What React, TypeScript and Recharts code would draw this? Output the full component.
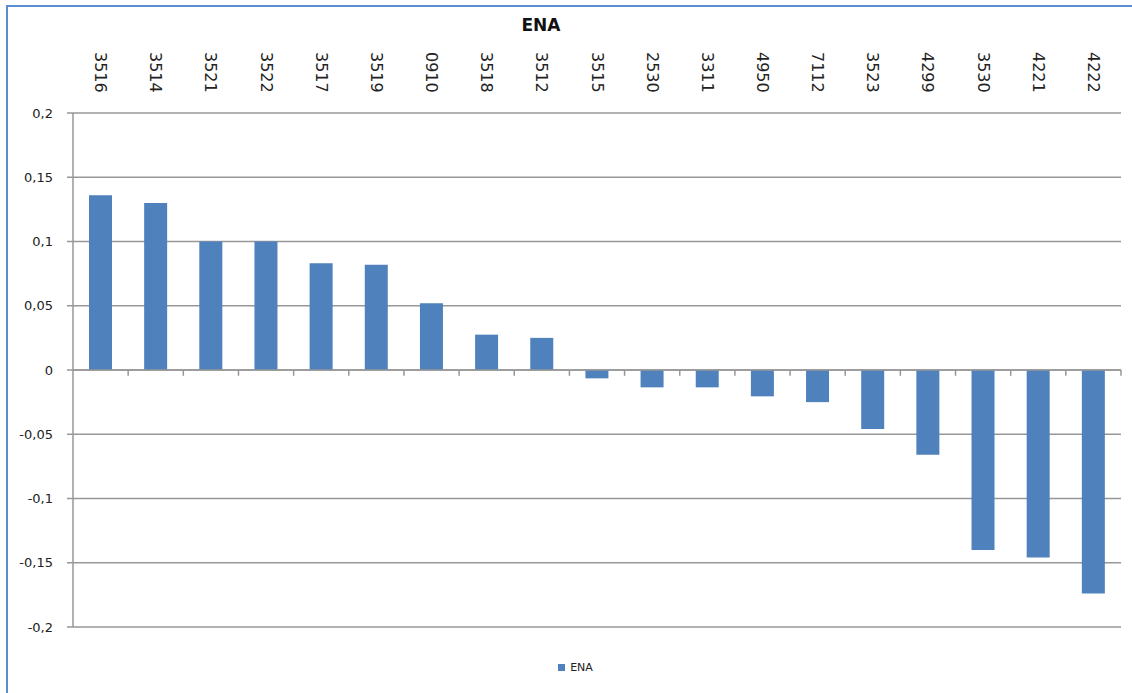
import React from 'react';
import { BarChart, Bar, XAxis, YAxis, CartesianGrid, ReferenceLine, Legend } from 'recharts';

const categories = ['3516', '3514', '3521', '3522', '3517', '3519', '0910', '3518', '3512', '3515', '2530', '3311', '4950', '7112', '3523', '4299', '3530', '4221', '4222'];
const enaValues = [0.136, 0.130, 0.100, 0.100, 0.083, 0.082, 0.052, 0.0275, 0.025, -0.0065, -0.0135, -0.0135, -0.0205, -0.025, -0.046, -0.066, -0.140, -0.146, -0.174];
const yTicks = [-0.2, -0.15, -0.1, -0.05, 0, 0.05, 0.1, 0.15, 0.2];
const seriesName = 'ENA';
const titleText = 'ENA';

const data = categories.map((c, i) => ({ cat: c, ENA: enaValues[i] }));

const FONT = '"DejaVu Sans", sans-serif';
const GRID = '#979797';
const BAR = '#4F81BD';

const TopTick = (props: any) => {
  const { x, payload } = props;
  return (
    <text
      x={0}
      y={0}
      transform={`translate(${x},52) rotate(90)`}
      textAnchor="start"
      dominantBaseline="central"
      fontSize={16}
      fontFamily={FONT}
      fill="#222"
    >
      {payload.value}
    </text>
  );
};

const fmt = (v: number) => String(v).replace('.', ',');

const LegendContent = () => (
  <div style={{ height: 46, display: 'flex', justifyContent: 'center', paddingLeft: 30, boxSizing: 'border-box' }}>
    <div style={{ marginTop: 35, display: 'flex', alignItems: 'center', fontFamily: FONT, fontSize: 11, color: '#222', lineHeight: '11px' }}>
      <span style={{ display: 'inline-block', width: 7, height: 7, background: BAR, marginRight: 5 }} />
      <span>{seriesName}</span>
    </div>
  </div>
);

export default function App() {
  return (
    <div style={{ position: 'absolute', left: 0, top: 0, width: 1132, height: 693, background: '#fff', overflow: 'hidden' }}>
      <div style={{ position: 'absolute', left: 6, top: 5, width: 1140, height: 700, borderLeft: '2px solid #5B8BD0', borderTop: '2px solid #5B8BD0', boxSizing: 'border-box' }} />
      <div style={{ position: 'absolute', left: 0, top: 14, width: 1082, textAlign: 'center', fontFamily: FONT, fontWeight: 'bold', fontSize: 17, lineHeight: '22px', color: '#111' }}>
        {titleText}
      </div>
      <div style={{ position: 'absolute', left: 0, top: 0 }}>
        <BarChart width={1132} height={693} data={data} margin={{ top: 0, right: 11, bottom: 20, left: 0 }} barCategoryGap="29%">
          <CartesianGrid horizontal vertical={false} stroke={GRID} strokeWidth={1.5} />
          <XAxis
            dataKey="cat"
            orientation="top"
            height={113}
            interval={0}
            axisLine={false}
            tickLine={false}
            tick={<TopTick />}
          />
          <YAxis
            width={73}
            domain={[-0.2, 0.2]}
            ticks={yTicks}
            tickFormatter={fmt}
            allowDataOverflow
            tickSize={6}
            tickMargin={14}
            axisLine={{ stroke: GRID, strokeWidth: 1.5 }}
            tickLine={{ stroke: GRID, strokeWidth: 1.5 }}
            tick={{ fontSize: 13, fontFamily: FONT, fill: '#222' }}
          />
          <Legend verticalAlign="bottom" content={<LegendContent />} />
          <Bar dataKey="ENA" name={seriesName} fill={BAR} isAnimationActive={false} />
          <ReferenceLine y={0} stroke={GRID} strokeWidth={1.5} />
          {categories.map((c) => (
            <ReferenceLine
              key={'t' + c}
              segment={[{ x: c, y: 0 }, { x: c, y: -0.0045 }]}
              position="end"
              stroke={GRID}
              strokeWidth={1.5}
              ifOverflow="visible"
            />
          ))}
        </BarChart>
      </div>
    </div>
  );
}
